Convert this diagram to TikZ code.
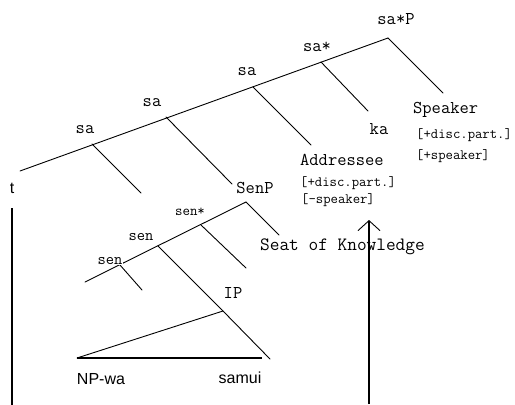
\documentclass[tikz,border=0pt]{standalone}
\usepackage{fontspec}
\newfontfamily\labsans{Liberation Sans}
\usetikzlibrary{arrows.meta}
\begin{document}
\begin{tikzpicture}[x=1pt,y=-1pt,
  edge/.style={line width=0.9pt, line cap=round},
  timeline/.style={line width=1.5pt},
  cat/.style={inner sep=0pt, font=\ttfamily\fontsize{18}{18}\selectfont},
  smallcat/.style={inner sep=0.5pt, fill=white, font=\ttfamily\fontsize{16}{16}\selectfont},
  tinycat/.style={inner sep=0pt, font=\ttfamily\fontsize{14.5}{15}\selectfont},
  feat/.style={inner sep=0pt, anchor=west, font=\ttfamily\fontsize{14.3}{15}\selectfont},
  word/.style={inner sep=0pt, font=\labsans\fontsize{16}{16}\selectfont},
]
\useasboundingbox (0,0) rectangle (515,405);

% ---- upper projection: sa-heads ----
\coordinate (saRoot) at (20,171);
\coordinate (saA) at (92,144);
\coordinate (saB) at (166,117);
\coordinate (saC) at (253,87);
\coordinate (saStar) at (321,62);
\coordinate (saP) at (388,38);

\coordinate (emptyA) at (141,193);
\coordinate (toSenP) at (232,184);
\coordinate (toAddr) at (311,145);
\coordinate (toKa) at (368,111);
\coordinate (toSpk) at (443,93);

\draw[edge] (saRoot) -- (saP);
\draw[edge] (saA) -- (emptyA);
\draw[edge] (saB) -- (toSenP);
\draw[edge] (saC) -- (toAddr);
\draw[edge] (saStar) -- (toKa);
\draw[edge] (saP) -- (toSpk);

\node[cat] (lsaP) at (396,19) {sa*P};
\node[cat] (lsaStar) at (317,47) {sa*};
\node[cat] (lsaC) at (247,72) {sa};
\node[cat] (lsaB) at (152,103) {sa};
\node[cat] (lsaA) at (85,130) {sa};
\node[cat] (lka) at (379,129) {ka};

\node[cat, anchor=west] (spk) at (413,110) {Speaker};
\node[feat] (spkF1) at (416,135) {[+disc.part.]};
\node[feat] (spkF2) at (416,156) {[+speaker]};

\node[cat, anchor=west] (addr) at (300,160) {Addressee};
\node[feat] (addrF1) at (300,183) {[+disc.part.]};
\node[feat] (addrF2) at (301,200) {[-speaker]};

% ---- lower projection: sen-heads ----
\coordinate (senRoot) at (85,282);
\coordinate (senA) at (120,265);
\coordinate (senB) at (158,246);
\coordinate (senStar) at (201,225);
\coordinate (senP) at (246,202);

\coordinate (emptyB) at (142,290);
\coordinate (emptyC) at (246,268);
\coordinate (toSeat) at (279,235);
\coordinate (ip) at (223,311);
\coordinate (triR) at (270,359);
\coordinate (triL) at (77,358);
\coordinate (baseR) at (262,358);

\draw[edge] (senRoot) -- (senP);
\draw[edge] (senA) -- (emptyB);
\draw[edge] (senB) -- (ip) -- (triR);
\draw[edge] (senStar) -- (emptyC);
\draw[edge] (senP) -- (toSeat);
\draw[edge] (ip) -- (triL);
\draw[line width=1.3pt] (triL) -- (baseR);

\node[cat] (lsenP) at (255,188) {SenP};
\node[smallcat] (lsenA) at (110,261) {sen};
\node[smallcat] (lsenB) at (141,237) {sen};
\node[tinycat] (lsenStar) at (190,212) {sen*};
\node[cat] (lip) at (233,293) {IP};
\node[cat, anchor=west, font=\ttfamily\fontsize{18.8}{19}\selectfont] (seat) at (260,247) {Seat of Knowledge};

\node[word] (np) at (101,379) {NP-wa};
\node[word] (samui) at (240,378) {samui};

% ---- time lines ----
\node[word] (t) at (12,188) {t};
\coordinate (tTop) at (12,208);
\coordinate (tBot) at (12,405);
\draw[timeline] (tTop) -- (tBot);

\coordinate (arrBot) at (369,404);
\coordinate (arrTip) at (369,220);
\draw[timeline, -{Straight Barb[length=10pt,width=22pt,line width=0.9pt]}] (arrBot) -- (arrTip);
\end{tikzpicture}
\end{document}
